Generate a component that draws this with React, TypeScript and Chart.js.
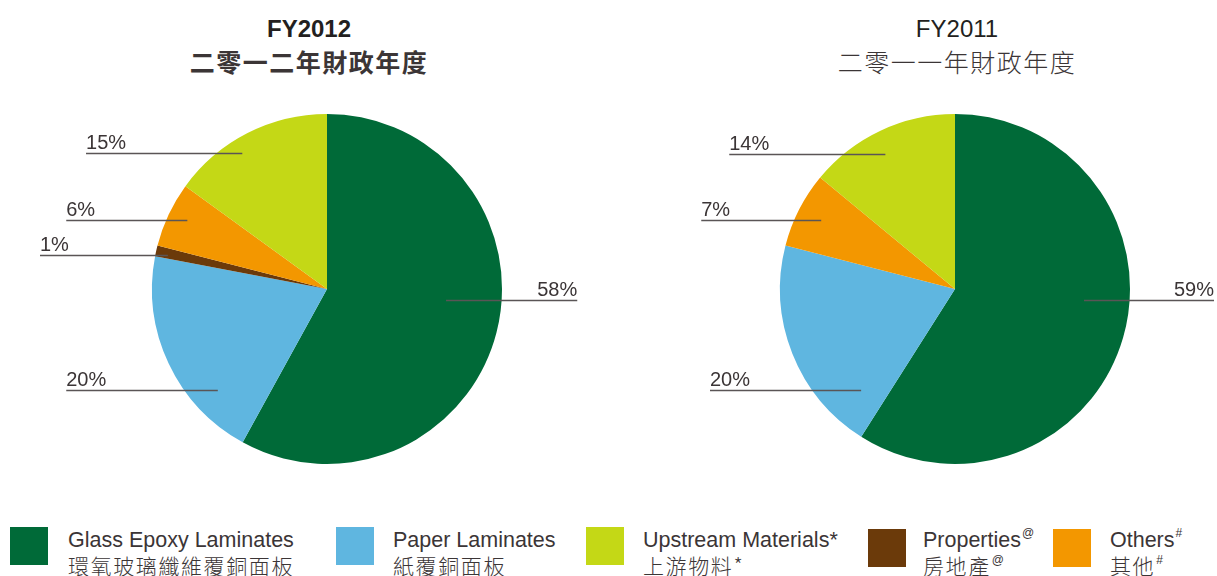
import React, { useEffect, useRef } from "react";
import { Chart, registerables } from "chart.js";

Chart.register(...registerables);

// ---- data ----
const sliceKeys = ["glass", "paper", "properties", "others", "upstream"];
const fy2012Values = [58, 20, 1, 6, 15];
const fy2011Values = [59, 20, 0, 7, 14];
const sliceColors = ["#006a38", "#5fb6e0", "#6b3a0a", "#f39700", "#c4d816"];

const legendOrder = [0, 1, 4, 2, 3];
const legendEn = ["Glass Epoxy Laminates", "Paper Laminates", "Properties", "Others", "Upstream Materials"];
const legendZh = ["環氧玻璃纖維覆銅面板", "紙覆銅面板", "房地產", "其他", "上游物料"];
const legendMarkEn = ["", "", "@", "#", "*"];
const legendMarkZh = ["", "", "@", "#", "*"];

const titleLeftEn = "FY2012";
const titleLeftZh = "二零一二年財政年度";
const titleRightEn = "FY2011";
const titleRightZh = "二零一一年財政年度";

// ---- label layout (leader line placement relative to each arc) ----
type LabelPos = { t: number; frac: number; reach: number; side: "left" | "right" } | null;
const leftLabelLayout: LabelPos[] = [
  { t: 0.456, frac: 0.683, reach: 1.43, side: "right" },
  { t: 0.256, frac: 0.85, reach: 1.49, side: "left" },
  { t: 0.36, frac: 0.93, reach: 1.64, side: "left" },
  { t: 0.55, frac: 0.89, reach: 1.49, side: "left" },
  { t: 0.41, frac: 0.917, reach: 1.377, side: "left" },
];
const rightLabelLayout: LabelPos[] = [
  { t: 0.447, frac: 0.74, reach: 1.48, side: "right" },
  { t: 0.144, frac: 0.79, reach: 1.4, side: "left" },
  null,
  { t: 0.51, frac: 0.86, reach: 1.45, side: "left" },
  { t: 0.46, frac: 0.87, reach: 1.29, side: "left" },
];

const TEXT = "#3b3536";
const LINE = "#5a5556";

const leaderPlugin = {
  id: "leaders",
  afterDatasetsDraw(chart: any, _args: any, opts: any) {
    const layout: LabelPos[] = opts.layout || [];
    const ctx = chart.ctx;
    const meta = chart.getDatasetMeta(0);
    const values = chart.data.datasets[0].data as number[];
    meta.data.forEach((arc: any, i: number) => {
      const cfg = layout[i];
      if (!cfg || !values[i]) return;
      const p = arc.getProps(["x", "y", "startAngle", "endAngle", "outerRadius"], true);
      const a = p.startAngle + cfg.t * (p.endAngle - p.startAngle);
      const px = p.x + cfg.frac * p.outerRadius * Math.cos(a);
      const py = Math.round(p.y + cfg.frac * p.outerRadius * Math.sin(a)) + 0.5;
      const ex = cfg.side === "left" ? p.x - cfg.reach * p.outerRadius : p.x + cfg.reach * p.outerRadius;
      ctx.save();
      ctx.strokeStyle = LINE;
      ctx.lineWidth = 1.6;
      ctx.beginPath();
      ctx.moveTo(px, py);
      ctx.lineTo(ex, py);
      ctx.stroke();
      ctx.fillStyle = TEXT;
      ctx.font = '20px "Liberation Sans", Arial, sans-serif';
      ctx.textBaseline = "alphabetic";
      ctx.textAlign = cfg.side === "left" ? "left" : "right";
      ctx.fillText(values[i] + "%", ex, py - 4.5);
      ctx.restore();
    });
  },
};

function PieCanvas(props: {
  values: number[];
  layout: LabelPos[];
  left: number;
  width: number;
  padding: { left: number; right: number; top: number; bottom: number };
}) {
  const ref = useRef<HTMLCanvasElement | null>(null);
  useEffect(() => {
    if (!ref.current) return;
    const chart = new Chart(ref.current, {
      type: "pie",
      data: {
        labels: sliceKeys,
        datasets: [
          {
            data: props.values,
            backgroundColor: sliceColors,
            borderWidth: 0,
          },
        ],
      },
      options: {
        responsive: false,
        animation: false,
        events: [],
        layout: { padding: props.padding },
        plugins: {
          legend: { display: false },
          tooltip: { enabled: false },
          title: { display: false },
          leaders: { layout: props.layout },
        } as any,
      },
      plugins: [leaderPlugin],
    });
    return () => chart.destroy();
  }, []);
  return (
    <canvas
      ref={ref}
      width={props.width}
      height={400}
      style={{ position: "absolute", left: props.left, top: 90, width: props.width, height: 400 }}
    />
  );
}

const enFont = '"Liberation Sans", Arial, Helvetica, sans-serif';
const zhFont = '"Noto Sans CJK TC", "Noto Sans CJK SC", sans-serif';

function Title(props: { center: number; en: string; zh: string; bold: boolean }) {
  const w = 320;
  return (
    <>
      <div
        style={{
          position: "absolute",
          left: props.center - w / 2,
          top: 17,
          width: w,
          textAlign: "center",
          fontFamily: enFont,
          fontSize: 24,
          lineHeight: "24px",
          fontWeight: props.bold ? 700 : 400,
          color: "#231f20",
          whiteSpace: "nowrap",
        }}
      >
        {props.en}
      </div>
      <div
        style={{
          position: "absolute",
          left: props.center - w / 2,
          top: 48,
          width: w,
          textAlign: "center",
          fontFamily: zhFont,
          fontSize: 25,
          lineHeight: "26px",
          letterSpacing: 1.5,
          fontWeight: props.bold ? 700 : 300,
          color: "#3b3536",
          whiteSpace: "nowrap",
        }}
      >
        {props.zh}
      </div>
    </>
  );
}

const legendSquareX = [10, 336, 586, 868, 1053];
const legendTextX = [68, 393, 643, 923, 1110];

function Mark(props: { m: string; zh?: boolean }) {
  if (!props.m) return null;
  if (props.m === "*") return <span>*</span>;
  return (
    <span style={{ fontSize: 12, position: "relative", top: -10, marginLeft: 1, fontFamily: enFont, letterSpacing: 0 }}>{props.m}</span>
  );
}

export default function App() {
  return (
    <div style={{ position: "absolute", left: 0, top: 0, width: 1217, height: 576, background: "#fff", overflow: "hidden" }}>
      <Title center={309} en={titleLeftEn} zh={titleLeftZh} bold={true} />
      <Title center={957} en={titleRightEn} zh={titleRightZh} bold={false} />
      <PieCanvas
        values={fy2012Values}
        layout={leftLabelLayout}
        left={0}
        width={608}
        padding={{ left: 152, right: 106, top: 24, bottom: 26 }}
      />
      <PieCanvas
        values={fy2011Values}
        layout={rightLabelLayout}
        left={608}
        width={609}
        padding={{ left: 172, right: 87, top: 24, bottom: 26 }}
      />
      {legendOrder.map((idx, k) => (
        <React.Fragment key={k}>
          <div
            style={{
              position: "absolute",
              left: legendSquareX[k],
              top: idx === 2 || idx === 3 ? 529 : 527,
              width: 38,
              height: 38,
              background: sliceColors[idx],
            }}
          />
          <div
            style={{
              position: "absolute",
              left: legendTextX[k],
              top: 530,
              fontFamily: enFont,
              fontSize: 21.5,
              lineHeight: "21px",
              color: TEXT,
              whiteSpace: "nowrap",
            }}
          >
            {legendEn[idx]}
            <Mark m={legendMarkEn[idx]} />
          </div>
          <div
            style={{
              position: "absolute",
              left: legendTextX[k],
              top: 554,
              fontFamily: zhFont,
              fontSize: 21,
              lineHeight: "22px",
              letterSpacing: 1.6,
              fontWeight: 300,
              color: TEXT,
              whiteSpace: "nowrap",
            }}
          >
            {legendZh[idx]}
            <Mark m={legendMarkZh[idx]} zh={true} />
          </div>
        </React.Fragment>
      ))}
    </div>
  );
}
